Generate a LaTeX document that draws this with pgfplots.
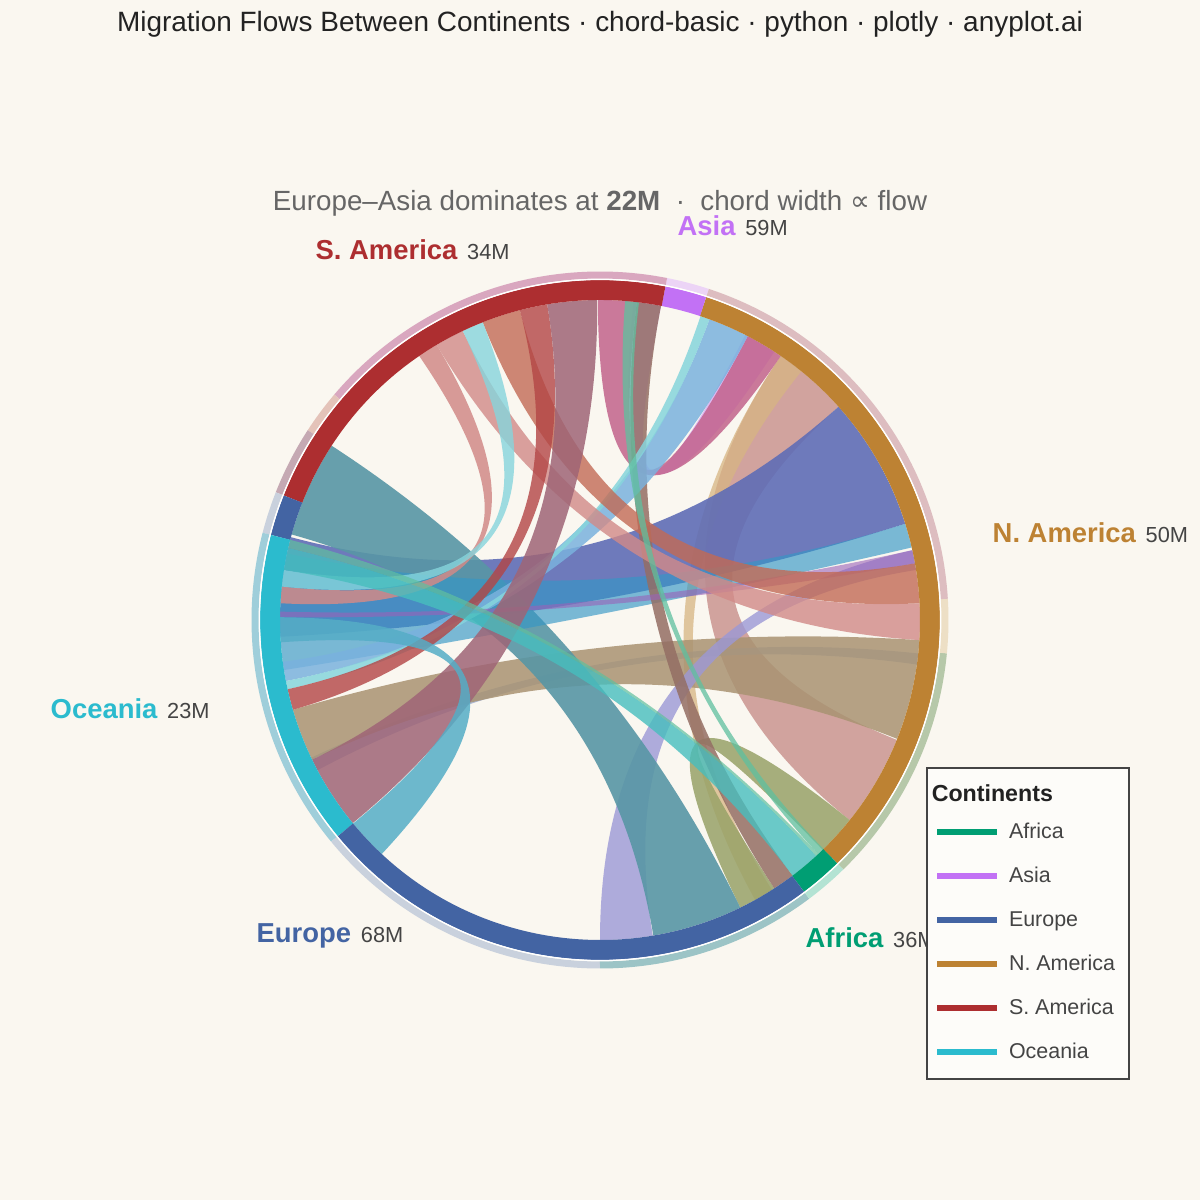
\documentclass[border=0pt]{standalone}
\usepackage{pgfplots}
\pgfplotsset{compat=1.18}
\usepackage{fontspec}
\setmainfont{Liberation Sans}
\newfontfamily\djv{DejaVu Sans}

\definecolor{bg}{HTML}{FAF7F0}
\definecolor{ttl}{HTML}{222222}
\definecolor{sub}{HTML}{666666}
\definecolor{val}{HTML}{444444}
% continent colours
\definecolor{afr}{HTML}{009E73}
\definecolor{asi}{HTML}{C271F5}
\definecolor{eur}{HTML}{4364A3}
\definecolor{nam}{HTML}{BD8233}
\definecolor{sam}{HTML}{AD2E30}
\definecolor{oce}{HTML}{2BBBCE}
% outer halo
\definecolor{hPink}{HTML}{D9A7BF}
\definecolor{hLav}{HTML}{ECD4F6}
\definecolor{hSal}{HTML}{E4C3B9}
\definecolor{hMau}{HTML}{C5A9B3}
\definecolor{hBG}{HTML}{C9D1DD}
\definecolor{hCy}{HTML}{9FCEDA}
\definecolor{hTeal}{HTML}{9CC4C6}
\definecolor{hMint}{HTML}{B3E3D3}
\definecolor{hOl}{HTML}{B6C8A9}
\definecolor{hTan}{HTML}{EDDFC5}
\definecolor{hRose}{HTML}{DDBDC0}
% chord colours
\definecolor{cTeal}{HTML}{5896A5}
\definecolor{cBP}{HTML}{5F6DB6}
\definecolor{cCy}{HTML}{3597C6}
\definecolor{cLB}{HTML}{7AB2DE}
\definecolor{cLC}{HTML}{86D5DC}
\definecolor{cSal}{HTML}{D18A88}
\definecolor{cOR}{HTML}{C26A55}
\definecolor{cRed}{HTML}{B34545}
\definecolor{cMau}{HTML}{9F6576}
\definecolor{cPink}{HTML}{C2638C}
\definecolor{cGB}{HTML}{946E64}
\definecolor{cRose}{HTML}{CA9590}
\definecolor{cTan}{HTML}{A99372}
\definecolor{cTanL}{HTML}{D7B582}
\definecolor{cLav}{HTML}{9C98D6}
\definecolor{cOl}{HTML}{98A268}
\definecolor{cCyA}{HTML}{47BEBE}
\definecolor{cGr}{HTML}{5FC09F}
\definecolor{cBG}{HTML}{95A6CE}
\definecolor{cCB}{HTML}{55ADC6}
\definecolor{cLil}{HTML}{D6ABF2}
\definecolor{cPur}{HTML}{9A62B8}

% chord between the arcs a1..a2 and b1..b2 (degrees), centre (6,5.8), inner radius 3.2
\newcommand{\chord}[6]{%
  \fill[#5, fill opacity=#6]
    (axis cs:{6+3.2*cos(#1)},{5.8+3.2*sin(#1)})
    arc[start angle=#1, end angle=#2, radius=3.2cm]
    .. controls (axis cs:{6+1.0667*cos(#2)},{5.8+1.0667*sin(#2)})
            and (axis cs:{6+1.0667*cos(#3)},{5.8+1.0667*sin(#3)})
    .. (axis cs:{6+3.2*cos(#3)},{5.8+3.2*sin(#3)})
    arc[start angle=#3, end angle=#4, radius=3.2cm]
    .. controls (axis cs:{6+1.0667*cos(#4)},{5.8+1.0667*sin(#4)})
            and (axis cs:{6+1.0667*cos(#1)},{5.8+1.0667*sin(#1)})
    .. cycle;}
% ring segment: a1 a2 colour radius width
\newcommand{\seg}[5]{%
  \draw[#3, line width=#5cm]
    (axis cs:{6+#4*cos(#1)},{5.8+#4*sin(#1)})
    arc[start angle=#1, end angle=#2, radius=#4cm];}
\newcommand{\ls}{\rule[-1.5pt]{0pt}{6.5pt}}

\begin{document}
\begin{tikzpicture}
\begin{axis}[
    x=1cm, y=1cm,
    xmin=0, xmax=12, ymin=0, ymax=12,
    hide axis, clip=false,
    legend cell align=left,
    legend style={at={(axis cs:9.26,4.33)}, anchor=north west,
      draw=val, line width=0.6pt, fill=white!60!bg,
      font=\fontsize{6.1}{7.3}\selectfont, text=val,
      inner xsep=2pt, inner ysep=4.5pt, column sep=2.4pt, row sep=6pt,
      nodes={inner sep=0pt}},
  ]
  \fill[bg] (axis cs:0,0) rectangle (axis cs:12,12);

  % chords
  \chord{-38.7}{-22}{41.8}{55.6}{cRose}{0.85}
  \chord{-61}{-57.5}{51}{55.6}{cTanL}{0.75}
  \chord{17.5}{41.8}{165}{183}{cBP}{0.9}
  \chord{-8}{-6}{205.5}{208}{cBG}{0.75}
  \chord{-21.8}{-3.6}{196.3}{205.9}{cTan}{0.85}
  \chord{-64}{-57}{-45.9}{-38.7}{cOl}{0.85}
  \chord{-90}{-80.5}{9}{12.6}{cLav}{0.8}
  \chord{-80.4}{-64}{147}{164.5}{cTeal}{0.9}
  \chord{13.1}{17.5}{168}{189}{cCy}{0.65}
  \chord{57}{63}{79}{84}{cLil}{0.8}
  \chord{55.6}{62.5}{83.4}{90.4}{cPink}{0.85}
  \chord{-57}{-53}{79}{83.4}{cGB}{0.85}
  \chord{62.5}{70}{187.5}{191}{cLB}{0.85}
  \chord{70}{71.7}{191}{192.5}{cLC}{0.85}
  \chord{10.2}{12.6}{178.5}{179.5}{cPur}{0.6}
  \chord{3}{10.2}{104.5}{111.5}{cOR}{0.8}
  \chord{-3.6}{3}{115.4}{120.7}{cSal}{0.8}
  \chord{120.7}{124.4}{174}{177}{cSal}{0.85}
  \chord{99.5}{104.5}{192.5}{196.3}{cRed}{0.8}
  \chord{90.5}{99.5}{205.9}{219.4}{cMau}{0.85}
  \chord{111.5}{115.4}{171}{174}{cLC}{0.8}
  \chord{-53}{-47.5}{167}{171}{cCyA}{0.8}
  \chord{-47.5}{-47}{165.5}{167}{cGr}{0.7}
  \chord{-47}{-45.7}{83}{85.5}{cGr}{0.75}
  \chord{179.5}{184}{219.5}{227}{cCB}{0.85}

  % outer halo
  \seg{71.8}{78.9}{hLav}{3.45}{0.07}
  \seg{78.9}{139.7}{hPink}{3.45}{0.07}
  \seg{139.7}{147}{hSal}{3.45}{0.07}
  \seg{147}{158.5}{hMau}{3.45}{0.07}
  \seg{158.5}{165.5}{hBG}{3.45}{0.07}
  \seg{165.5}{219.5}{hCy}{3.45}{0.07}
  \seg{219.5}{270}{hBG}{3.45}{0.07}
  \seg{270}{306.9}{hTeal}{3.45}{0.07}
  \seg{306.9}{314.3}{hMint}{3.45}{0.07}
  \seg{314.3}{354.5}{hOl}{3.45}{0.07}
  \seg{354.5}{363.5}{hTan}{3.45}{0.07}
  \seg{3.5}{71.8}{hRose}{3.45}{0.07}
  % main ring
  \seg{-53.1}{-45.7}{afr}{3.3}{0.2}
  \seg{-45.7}{71.8}{nam}{3.3}{0.2}
  \seg{71.8}{78.9}{asi}{3.3}{0.2}
  \seg{78.9}{158.5}{sam}{3.3}{0.2}
  \seg{158.5}{165.5}{eur}{3.3}{0.2}
  \seg{165.5}{219.5}{oce}{3.3}{0.2}
  \seg{219.5}{306.9}{eur}{3.3}{0.2}
  \draw[white, line width=0.35pt] (axis cs:6,5.8) circle[radius=3.405cm];

  % texts
  \node[anchor=base, inner sep=0pt] at (axis cs:6,11.68)
    {\fontsize{7.95}{10}\selectfont\color{ttl}Migration Flows Between Continents · chord-basic · python · plotly · anyplot.ai};
  \node[anchor=base, inner sep=0pt] at (axis cs:6,9.89)
    {\fontsize{7.9}{9.5}\selectfont\color{sub}Europe–Asia dominates at \textbf{22M}\ \ ·\ \ chord width {\djv ∝} flow};
  \node[anchor=base west, inner sep=0pt] at (axis cs:3.15,9.40)
    {{\fontsize{7.8}{9}\selectfont\bfseries\color{sam}S. America} {\fontsize{6.2}{7}\selectfont\color{val}34M}};
  \node[anchor=base west, inner sep=0pt] at (axis cs:6.77,9.64)
    {{\fontsize{7.8}{9}\selectfont\bfseries\color{asi}Asia} {\fontsize{6.2}{7}\selectfont\color{val}59M}};
  \node[anchor=base west, inner sep=0pt] at (axis cs:9.92,6.57)
    {{\fontsize{7.8}{9}\selectfont\bfseries\color{nam}N. America} {\fontsize{6.2}{7}\selectfont\color{val}50M}};
  \node[anchor=base west, inner sep=0pt] at (axis cs:0.50,4.81)
    {{\fontsize{7.8}{9}\selectfont\bfseries\color{oce}Oceania} {\fontsize{6.2}{7}\selectfont\color{val}23M}};
  \node[anchor=base west, inner sep=0pt] at (axis cs:2.56,2.57)
    {{\fontsize{7.8}{9}\selectfont\bfseries\color{eur}Europe} {\fontsize{6.2}{7}\selectfont\color{val}68M}};
  \node[anchor=base west, inner sep=0pt] at (axis cs:8.05,2.53)
    {{\fontsize{7.8}{9}\selectfont\bfseries\color{afr}Africa} {\fontsize{6.2}{7}\selectfont\color{val}36M}};

  % legend
  \addlegendimage{empty legend}
  \addlegendentry{\makebox[0pt][l]{\hspace*{-0.79cm}\raisebox{-2pt}[3pt][0pt]{\fontsize{6.6}{7.5}\selectfont\bfseries\color{ttl}Continents}}}
  \addlegendimage{line width=0.065cm, color=afr}
  \addlegendentry{\ls Africa}
  \addlegendimage{line width=0.065cm, color=asi}
  \addlegendentry{\ls Asia}
  \addlegendimage{line width=0.065cm, color=eur}
  \addlegendentry{\ls Europe}
  \addlegendimage{line width=0.065cm, color=nam}
  \addlegendentry{\ls N. America\hspace*{2pt}}
  \addlegendimage{line width=0.065cm, color=sam}
  \addlegendentry{\ls S. America}
  \addlegendimage{line width=0.065cm, color=oce}
  \addlegendentry{\ls Oceania}
\end{axis}
\end{tikzpicture}
\end{document}
